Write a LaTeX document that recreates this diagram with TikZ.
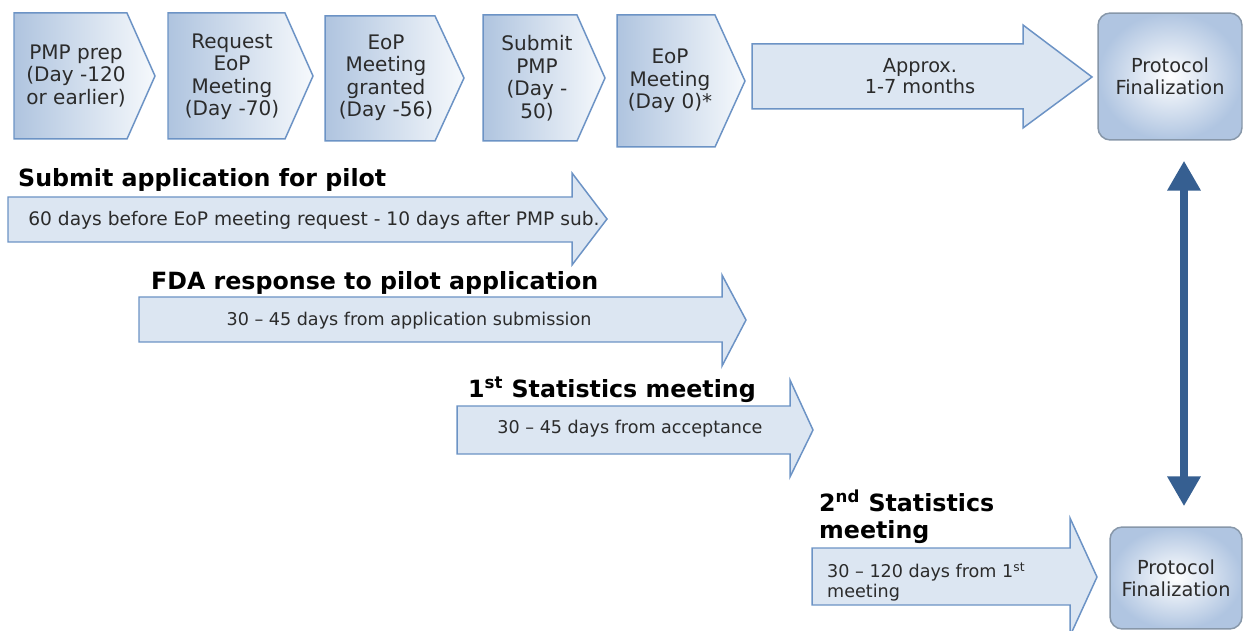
\documentclass[tikz,border=0pt]{standalone}
\usepackage{fontspec}
\setmainfont{DejaVu Sans}
\usepackage{xcolor}
\usetikzlibrary{arrows.meta}
\definecolor{chevdark}{HTML}{AFC4DF}
\definecolor{chevlight}{HTML}{F6F9FC}
\definecolor{chevline}{HTML}{6C93C5}
\definecolor{arrfill}{HTML}{DCE6F2}
\definecolor{arrline}{HTML}{6C93C5}
\definecolor{boxedge}{HTML}{B0C5E1}
\definecolor{boxline}{HTML}{8797A9}
\definecolor{linkblue}{HTML}{365F91}
\definecolor{txt}{HTML}{2B2B2B}
\tikzset{
  chev/.style={draw=chevline, line width=0.85pt, left color=chevdark, right color=chevlight},
  bigarr/.style={draw=arrline, line width=0.85pt, fill=arrfill},
  pfbox/.style={draw=boxline, line width=0.85pt, rounded corners=7pt, inner color=white, outer color=boxedge},
  steptxt/.style={font=\fontsize{11.4}{12.8}\selectfont, align=center, text=txt},
  ttl/.style={font=\fontsize{13.5}{15.5}\selectfont\bfseries, anchor=west, align=left},
  note/.style={font=\fontsize{10}{11.5}\selectfont, text=txt}
}

\begin{document}
\begin{tikzpicture}[x=0.02cm, y=-0.02cm]
  \useasboundingbox (0,0) rectangle (1244,631);

  % milestone chevrons
  \draw[chev] (14,13) -- (127,13) -- (155,76) -- (127,139) -- (14,139) -- cycle;
  \draw[chev] (168,13) -- (285,13) -- (313,76) -- (285,139) -- (168,139) -- cycle;
  \draw[chev] (325,16) -- (435,16) -- (464,78) -- (435,141) -- (325,141) -- cycle;
  \draw[chev] (483,15) -- (577,15) -- (605,78) -- (577,141) -- (483,141) -- cycle;
  \draw[chev] (617,15) -- (715,15) -- (745,81) -- (715,147) -- (617,147) -- cycle;

  \node[steptxt] (prep) at (76,76) {PMP prep\\(Day -120\\or earlier)};
  \node[steptxt] (req)  at (232,77) {Request\\EoP\\Meeting\\(Day -70)};
  \node[steptxt] (gran) at (386,78) {EoP\\Meeting\\granted\\(Day -56)};
  \node[steptxt] (subm) at (537,78) {Submit\\PMP\\(Day -\\50)};
  \node[steptxt] (eop)  at (670,81) {EoP\\Meeting\\(Day 0)*};

  % wait until finalization
  \draw[bigarr] (752,44) -- (1023,44) -- (1023,25) -- (1092,77) -- (1023,128)
    -- (1023,109) -- (752,109) -- cycle;
  \node[steptxt, font=\fontsize{11}{12}\selectfont] (approx) at (920,76) {Approx.\\1-7 months};

  \node[pfbox, steptxt, font=\fontsize{11}{12.5}\selectfont, minimum width=2.88cm, minimum height=2.54cm]
    (pftop) at (1170,76.5) {Protocol\\Finalization};
  \node[pfbox, steptxt, font=\fontsize{11}{12.5}\selectfont, minimum width=2.64cm, minimum height=2.04cm]
    (pfbot) at (1176,578) {Protocol\\Finalization};

  % pilot timeline
  \draw[bigarr] (8,197) -- (572,197) -- (572,173) -- (607,219) -- (572,265)
    -- (572,242) -- (8,242) -- cycle;
  \node[ttl] (apptl) at (12,180) {Submit application for pilot};
  \node[note, font=\fontsize{10.6}{12}\selectfont] (appnt) at (314,220) {60 days before EoP meeting request - 10 days after PMP sub.};

  \draw[bigarr] (139,297) -- (722,297) -- (722,275) -- (746,320) -- (722,366)
    -- (722,342) -- (139,342) -- cycle;
  \node[ttl] (fdatl) at (145,283) {FDA response to pilot application};
  \node[note] (fdant) at (409,321) {30 -- 45 days from application submission};

  \draw[bigarr] (457,406) -- (790,406) -- (790,380) -- (813,430) -- (790,477)
    -- (790,454) -- (457,454) -- cycle;
  \node[ttl] (st1tl) at (462,390) {1\textsuperscript{st} Statistics meeting};
  \node[note] (st1nt) at (630,429) {30 -- 45 days from acceptance};

  \draw[bigarr] (812,548) -- (1070,548) -- (1070,518) -- (1097,577) -- (1070,636)
    -- (1070,605) -- (812,605) -- cycle;
  \node[ttl] (st2tl) at (813,517) {2\textsuperscript{nd} Statistics\\meeting};
  \node[note, anchor=west, align=left] (st2nt) at (821,582) {30 -- 120 days from 1\textsuperscript{st}\\meeting};

  % link between the two finalizations
  \coordinate (lx) at (1184,0);
  \draw[linkblue, line width=5pt, shorten <=0.4cm, shorten >=0.4cm,
    {Triangle[width=18pt,length=17pt]}-{Triangle[width=18pt,length=17pt]}]
    (pftop.south -| lx) -- (pfbot.north -| lx);
\end{tikzpicture}
\end{document}
